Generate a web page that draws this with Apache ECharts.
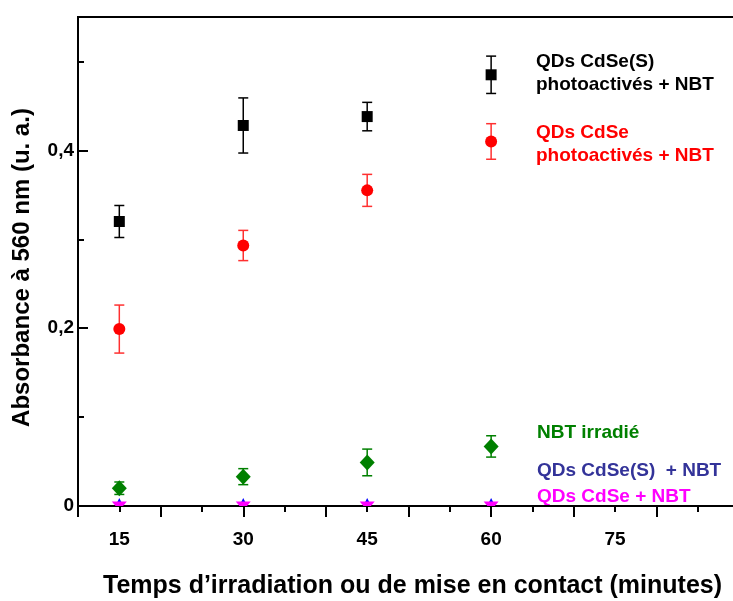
<!DOCTYPE html>
<html>
<head>
<meta charset="utf-8">
<script src="https://cdn.jsdelivr.net/npm/echarts@6/dist/echarts.min.js"></script>
<style>html,body{margin:0;padding:0;background:#fff}#c{width:733px;height:601px}</style>
</head>
<body>
<div id="c"></div>
<script>
// ---- data ----
const times = [15, 30, 45, 60];
const cdseSPhoto = [0.320, 0.428, 0.438, 0.485];
const cdseSPhotoErr = [0.018, 0.031, 0.016, 0.021];
const cdsePhoto = [0.199, 0.293, 0.355, 0.410];
const cdsePhotoErr = [0.027, 0.017, 0.018, 0.020];
const nbtIrr = [0.020, 0.033, 0.049, 0.067];
const nbtIrrErr = [0.007, 0.009, 0.015, 0.012];
const cdseSDark = [0.005, 0.005, 0.005, 0.005];
const cdseDark = [0.0, 0.0, 0.0, 0.0];
const xTickLabels = [15, 30, 45, 60, 75];
const yTickLabels = ['0', '0,2', '0,4'];
const yTickValues = [0, 0.2, 0.4];

const FONT = 'Liberation Sans, Arial, sans-serif';

function pts(ys) { return times.map((t, i) => [t, ys[i]]); }
function errPts(ys, es) { return times.map((t, i) => [t, ys[i], es[i]]); }

function errSeries(ys, es, color) {
  return {
    type: 'custom',
    xAxisIndex: 0, yAxisIndex: 0,
    z: 2,
    data: errPts(ys, es),
    encode: { x: 0, y: 1 },
    renderItem: function (params, api) {
      const x = api.value(0), y = api.value(1), e = api.value(2);
      const top = api.coord([x, y + e]);
      const bot = api.coord([x, y - e]);
      const hw = 5;
      const st = { stroke: color, lineWidth: 1.5 };
      return {
        type: 'group',
        children: [
          { type: 'line', shape: { x1: top[0], y1: top[1], x2: bot[0], y2: bot[1] }, style: st },
          { type: 'line', shape: { x1: top[0] - hw, y1: top[1], x2: top[0] + hw, y2: top[1] }, style: st },
          { type: 'line', shape: { x1: bot[0] - hw, y1: bot[1], x2: bot[0] + hw, y2: bot[1] }, style: st }
        ]
      };
    }
  };
}

function scat(ys, symbol, size, color, rotate) {
  return {
    type: 'scatter', xAxisIndex: 0, yAxisIndex: 0, z: 3,
    data: pts(ys), symbol: symbol, symbolSize: size, symbolRotate: rotate || 0,
    itemStyle: { color: color, opacity: 1 }, clip: true
  };
}

// down-pointing triangle marker, clipped by the plot area
function downTri(ys, color) {
  return {
    type: 'custom', xAxisIndex: 0, yAxisIndex: 0, z: 4, clip: true,
    data: pts(ys), encode: { x: 0, y: 1 },
    renderItem: function (params, api) {
      const c = api.coord([api.value(0), api.value(1)]);
      return {
        type: 'polygon',
        shape: { points: [[c[0] - 7.5, c[1] - 4.5], [c[0] + 7.5, c[1] - 4.5], [c[0], c[1] + 4.5]] },
        style: { fill: color }
      };
    }
  };
}

const chart = echarts.init(document.getElementById('c'));
const txt = (x, y, s, color) => ({
  type: 'text', x: x, y: y,
  style: { text: s, fill: color, font: 'bold 19px ' + FONT, textVerticalAlign: 'middle' }
});

chart.setOption({
  animation: false,
  backgroundColor: '#fff',
  grid: {
    left: 78, top: 17, height: 489, width: 661, show: true, borderColor: '#000', borderWidth: 2,
    containLabel: false, outerBoundsMode: 'none'
  },
  xAxis: [
    {
      type: 'value', min: 10, max: 90, interval: 5,
      name: 'Temps d’irradiation ou de mise en contact (minutes)',
      nameLocation: 'middle', nameGap: 68,
      nameTextStyle: { fontFamily: FONT, fontWeight: 'bold', fontSize: 25, color: '#000', padding: [0, 0, 0, 8] },
      axisLine: { show: true, lineStyle: { color: '#000', width: 2 } },
      axisTick: { show: true, inside: false, length: 6, lineStyle: { color: '#000', width: 2 } },
      axisLabel: {
        margin: 24, fontFamily: FONT, fontWeight: 'bold', fontSize: 19, color: '#000',
        formatter: v => (xTickLabels.indexOf(Math.round(v)) >= 0 && Math.abs(v - Math.round(v)) < 1e-6) ? String(Math.round(v)) : ''
      },
      splitLine: { show: false }
    },
    {
      type: 'value', min: 10, max: 90, interval: 10, position: 'bottom',
      axisLine: { show: false },
      axisTick: { show: true, inside: false, length: 11, lineStyle: { color: '#000', width: 2 } },
      axisLabel: { show: false }, splitLine: { show: false }
    }
  ],
  yAxis: [
    {
      type: 'value', min: 0, max: 0.55, interval: 0.1, z: 10,
      axisLine: { show: true, lineStyle: { color: '#000', width: 2 } },
      axisTick: { show: true, inside: true, length: 6, lineStyle: { color: '#000', width: 2 } },
      axisLabel: { show: false }, splitLine: { show: false }
    },
    {
      type: 'value', min: 0, max: 0.55, interval: 0.2, position: 'left',
      name: 'Absorbance à 560 nm (u. a.)',
      nameLocation: 'middle', nameGap: 44,
      nameTextStyle: { fontFamily: FONT, fontWeight: 'bold', fontSize: 24, color: '#000', padding: [0, 12, 0, 0] },
      axisLine: { show: false },
      axisTick: { show: true, inside: true, length: 10, lineStyle: { color: '#000', width: 2 } },
      axisLabel: {
        margin: 4, fontFamily: FONT, fontWeight: 'bold', fontSize: 19, color: '#000',
        formatter: v => {
          for (let i = 0; i < yTickValues.length; i++) if (Math.abs(v - yTickValues[i]) < 1e-6) return yTickLabels[i];
          return '';
        }
      },
      splitLine: { show: false }
    }
  ],
  series: [
    errSeries(cdseSPhoto, cdseSPhotoErr, '#000'),
    errSeries(cdsePhoto, cdsePhotoErr, '#ff3030'),
    errSeries(nbtIrr, nbtIrrErr, '#008000'),
    scat(nbtIrr, 'diamond', [15, 16], '#008000'),
    scat(cdseSDark, 'triangle', [7, 7], '#0000ff'),
    downTri(cdseDark, '#ff00ff'),
    scat(cdseSPhoto, 'rect', [11, 11], '#000'),
    scat(cdsePhoto, 'circle', 12, '#ff0000')
  ],
  graphic: [
    txt(536, 62, 'QDs CdSe(S)', '#000'),
    txt(536, 85, 'photoactivés + NBT', '#000'),
    txt(536, 133, 'QDs CdSe', '#ff0000'),
    txt(536, 156, 'photoactivés + NBT', '#ff0000'),
    txt(537, 433, 'NBT irradié', '#008000'),
    txt(537, 471, 'QDs CdSe(S)  + NBT', '#333399'),
    txt(537, 497, 'QDs CdSe + NBT', '#ff00ff')
  ]
});
</script>
</body>
</html>
